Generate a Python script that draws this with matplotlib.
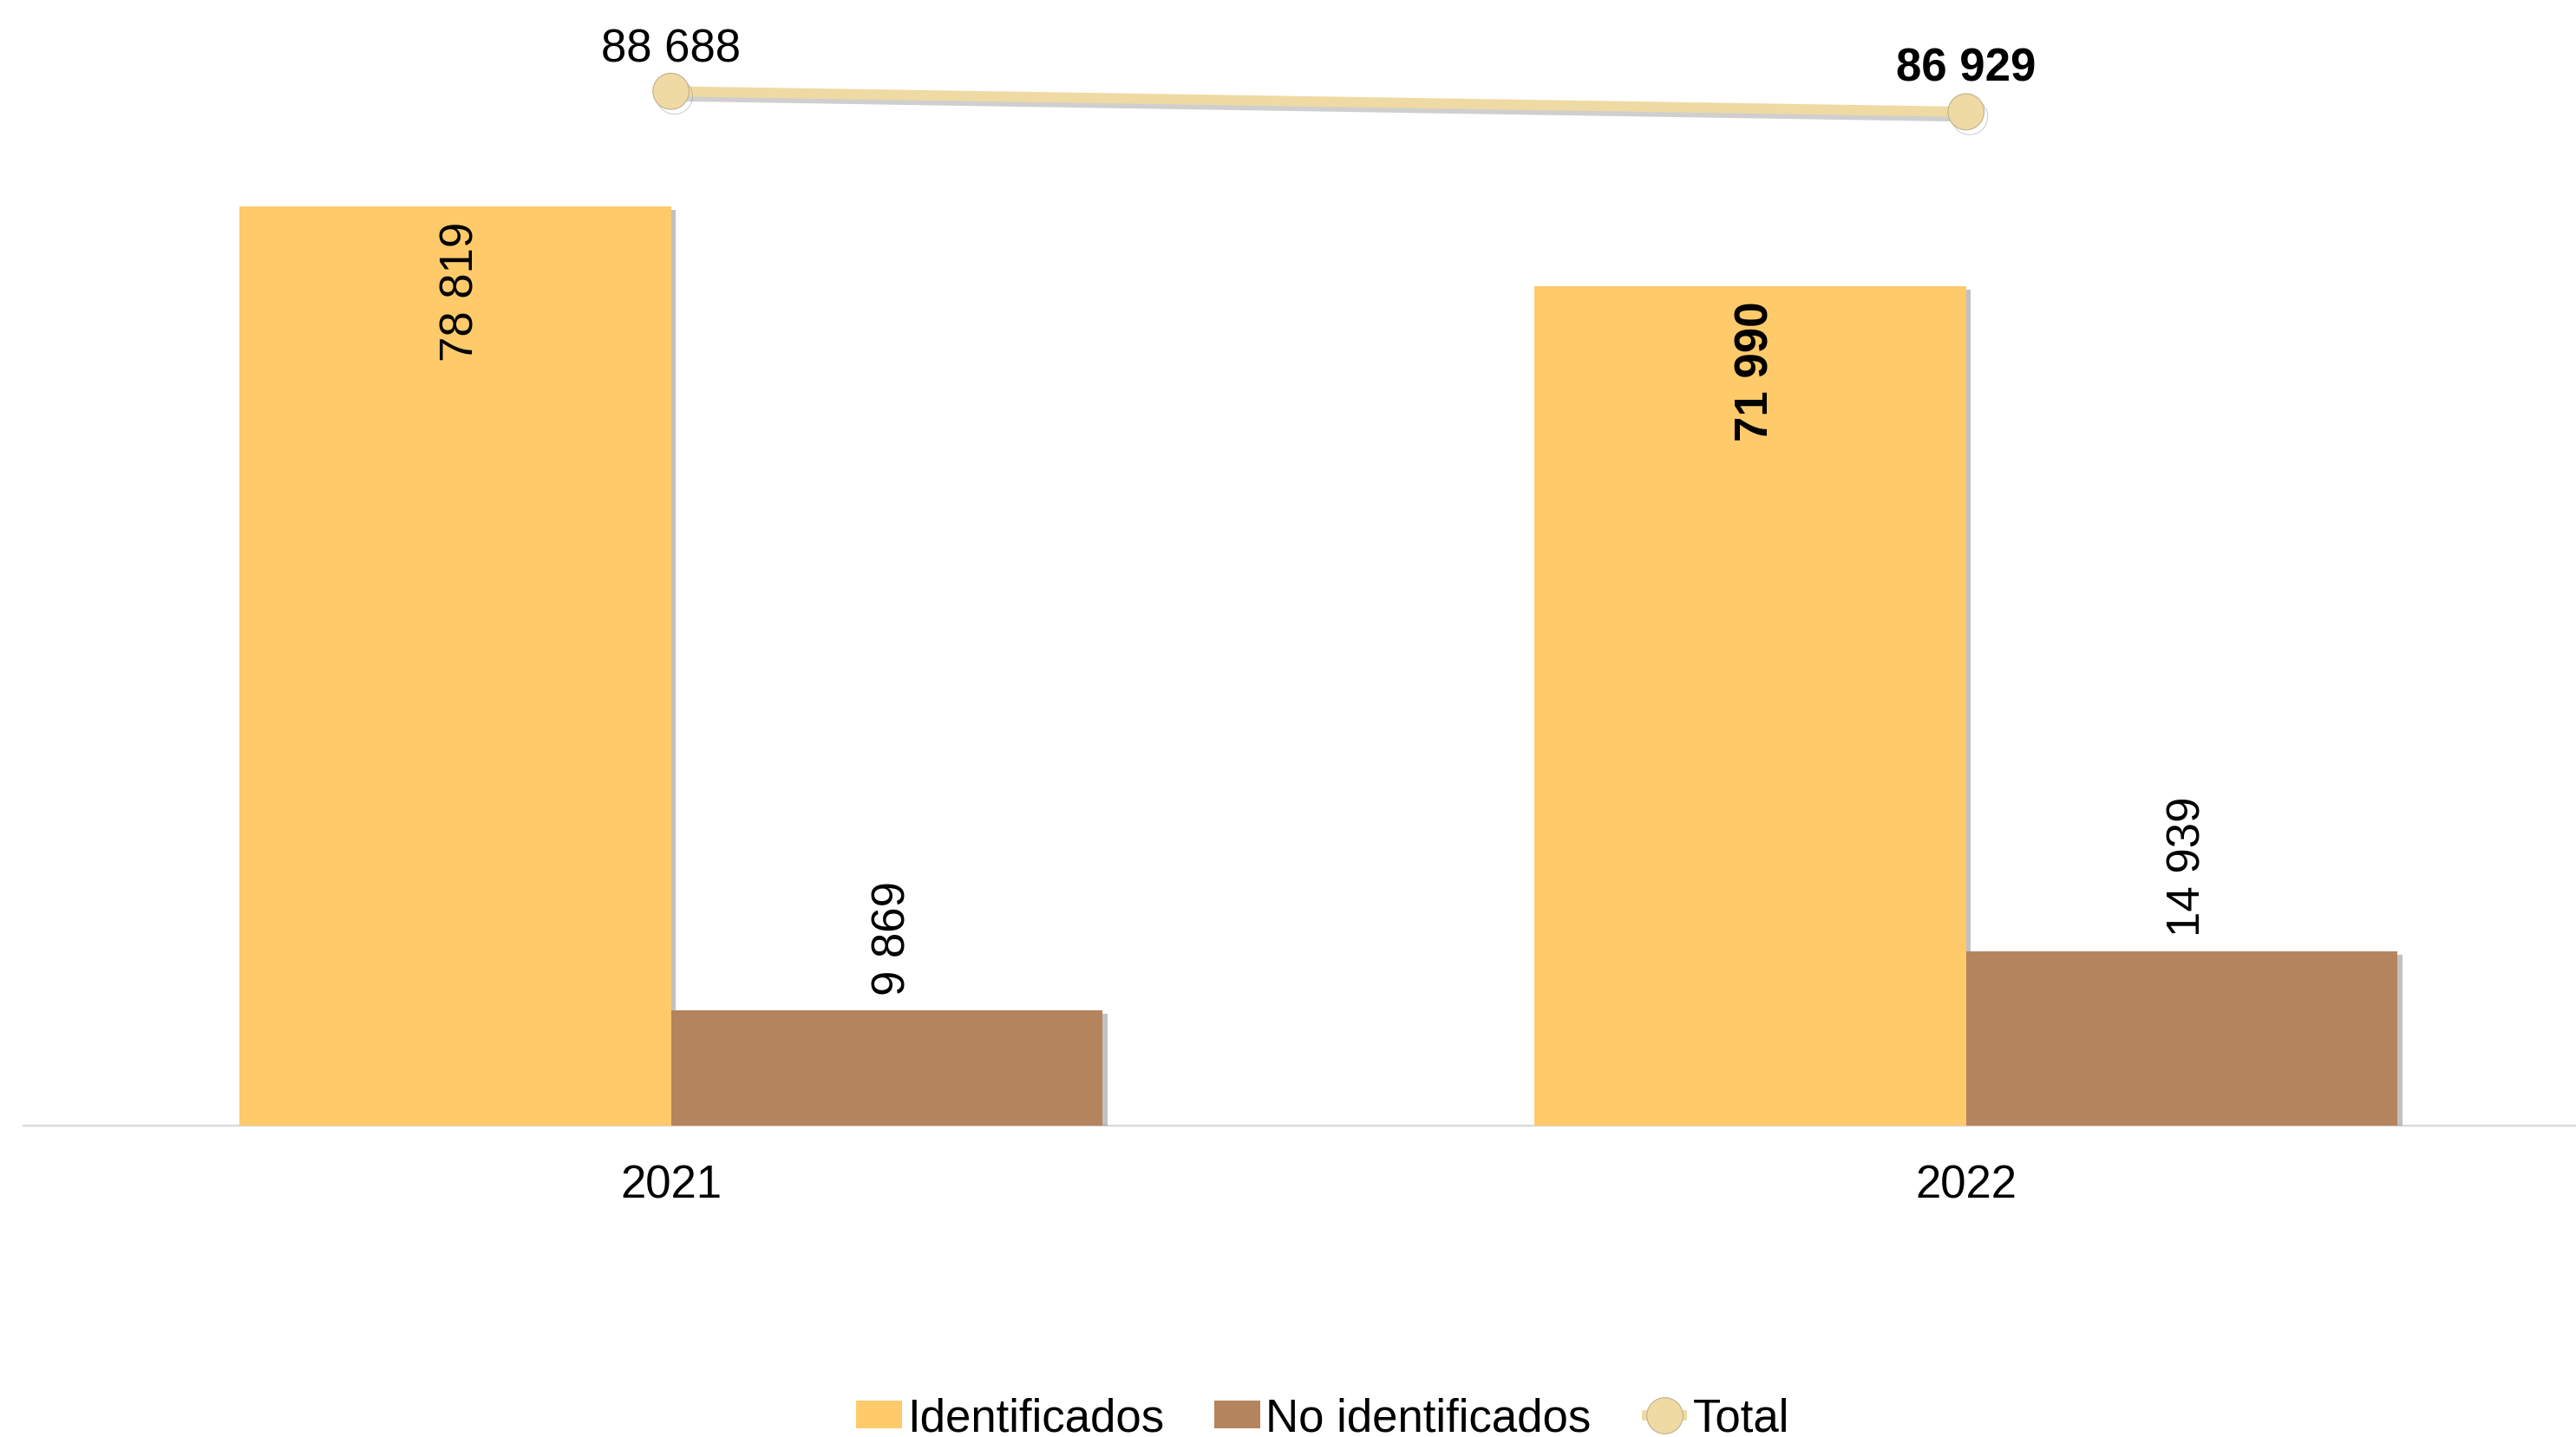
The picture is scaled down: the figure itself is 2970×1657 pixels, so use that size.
import matplotlib
matplotlib.use("Agg")
import matplotlib.pyplot as plt
import matplotlib.patheffects as pe
import numpy as np

plt.rcParams['font.family'] = ['Liberation Sans', 'DejaVu Sans']

years = ["2021", "2022"]
identificados = [78819, 71990]
no_identificados = [9869, 14939]
total = [88688, 86929]
bold_flags = [False, True]

def fmt(v):
    return f"{v:,}".replace(",", " ")

W, H = 2970, 1658
fig = plt.figure(figsize=(W / 100, H / 100), dpi=100)
ax = fig.add_axes([27 / W, 1 - 1299 / H, 1 - 27 / W, 1299 / H])

x = np.arange(len(years))
bw = 1 / 3
c_id = "#FFCA6A"
c_no = "#B4845F"
c_tot = "#F0DAA3"
fs = 38

shadow = [pe.SimplePatchShadow(offset=(4, -3), shadow_rgbFace="#777777", alpha=0.45), pe.Normal()]
b1 = ax.bar(x - bw / 2, identificados, bw, color=c_id, label="Identificados", zorder=2)
b2 = ax.bar(x + bw / 2, no_identificados, bw, color=c_no, label="No identificados", zorder=2)
for b in list(b1) + list(b2):
    b.set_path_effects(shadow)

ln, = ax.plot(x, total, color=c_tot, lw=8.5, marker="o", markersize=30,
              markerfacecolor=c_tot, markeredgecolor="#BDB08F", markeredgewidth=0.8,
              label="Total", zorder=4, solid_capstyle="butt")
ln.set_path_effects([pe.SimpleLineShadow(offset=(3, -4), shadow_color="#777777", alpha=0.35), pe.Normal()])

for i in range(len(years)):
    w = "bold" if bold_flags[i] else "normal"
    ax.annotate(fmt(identificados[i]), (x[i] - bw / 2, identificados[i]), xytext=(5, -12),
                textcoords="offset points", ha="center", va="top", rotation=90,
                fontsize=fs, fontweight=w, zorder=5)
    ax.annotate(fmt(no_identificados[i]), (x[i] + bw / 2, no_identificados[i]), xytext=(5, 13),
                textcoords="offset points", ha="center", va="bottom", rotation=90,
                fontsize=fs, zorder=5)
    ax.annotate(fmt(total[i]), (x[i], total[i]), xytext=(0, 35 if i == 0 else 36),
                textcoords="offset points", ha="center", va="center",
                fontsize=fs, fontweight=w, zorder=5)

ax.set_xlim(-0.5, 1.471)
ax.set_ylim(0, 1299 / (1060 / 78819))
ax.set_xticks(x)
ax.set_xticklabels(years, fontsize=fs)
ax.tick_params(axis="x", length=0, pad=31)
ax.set_yticks([])
for s in ["top", "right", "left"]:
    ax.spines[s].set_visible(False)
ax.spines["bottom"].set_color("#D9D9D9")
ax.spines["bottom"].set_linewidth(1.7)
ax.spines["bottom"].set_zorder(1)

leg = fig.legend(handles=[b1, b2, ln], loc="center", bbox_to_anchor=(1525 / W, 0.013),
                 ncol=3, frameon=False, fontsize=fs, handlelength=1.0, handleheight=0.55,
                 handletextpad=0.12, columnspacing=1.1, borderaxespad=0, borderpad=0)
for h in leg.legend_handles:
    if hasattr(h, "set_path_effects"):
        h.set_path_effects([])

fig.savefig("out.png", dpi=100, facecolor="white")
